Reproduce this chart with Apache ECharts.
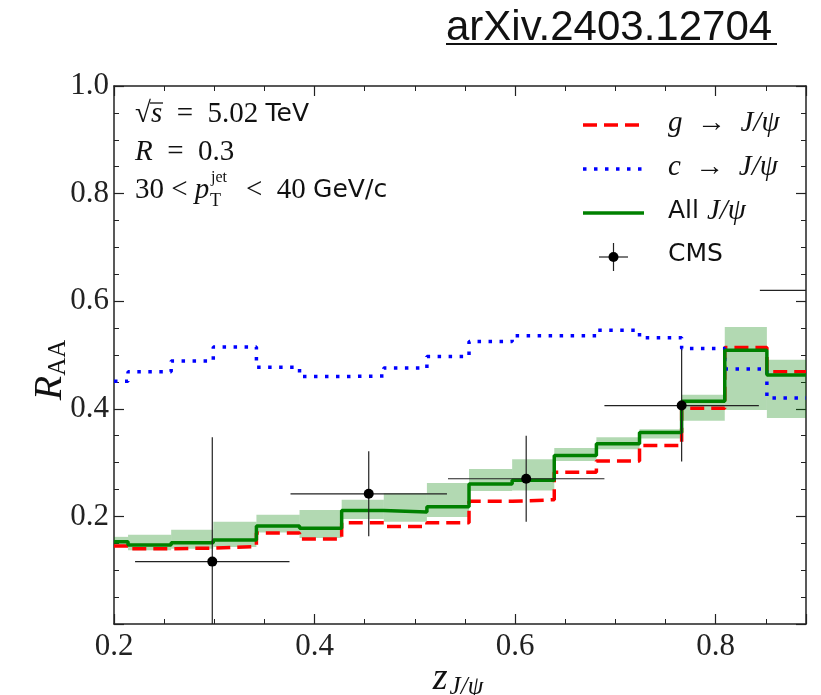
<!DOCTYPE html>
<html>
<head>
<meta charset="utf-8">
<script src="https://cdn.jsdelivr.net/npm/echarts@6/dist/echarts.min.js"></script>
<style>
html, body { margin: 0; padding: 0; background: #fff; }
#main { width: 821px; height: 695px; }
</style>
</head>
<body>
<div id="main"></div>
<script>
// bin edges in z_J/psi
var edges = [0.2, 0.214, 0.257, 0.299, 0.342, 0.385, 0.427, 0.469, 0.512, 0.554,
             0.597, 0.639, 0.681, 0.724, 0.766, 0.809, 0.851, 0.89];
// R_AA per bin
var allJpsi = [0.153, 0.147, 0.151, 0.156, 0.182, 0.178, 0.211, 0.208, 0.218,
               0.260, 0.267, 0.313, 0.335, 0.356, 0.414, 0.509, 0.463];
var gJpsi   = [0.145, 0.140, 0.141, 0.144, 0.169, 0.158, 0.188, 0.181, 0.188,
               0.228, 0.231, 0.282, 0.303, 0.332, 0.401, 0.514, 0.469];
var cJpsi   = [0.451, 0.469, 0.489, 0.515, 0.477, 0.460, 0.461, 0.476, 0.497,
               0.525, 0.536, 0.536, 0.546, 0.532, 0.512, 0.474, 0.420];
// uncertainty band of All J/psi
var bandLo  = [0.143, 0.137, 0.140, 0.143, 0.170, 0.160, 0.195, 0.190, 0.199,
               0.247, 0.248, 0.303, 0.325, 0.345, 0.378, 0.398, 0.383];
var bandHi  = [0.162, 0.166, 0.175, 0.190, 0.203, 0.212, 0.231, 0.243, 0.262,
               0.288, 0.306, 0.327, 0.347, 0.362, 0.426, 0.552, 0.491];
// CMS data
var cmsX    = [0.298, 0.454, 0.611, 0.766, 0.921];
var cmsY    = [0.116, 0.242, 0.270, 0.406, 0.620];
var cmsXerr = [0.077, 0.078, 0.078, 0.077, 0.077];
var cmsYerr = [0.231, 0.079, 0.080, 0.104, 0.100];

var serif = "'Liberation Serif', 'DejaVu Serif', serif";
var sans = "'DejaVu Sans', 'Liberation Sans', sans-serif";

function stepPoints(vals) {
    var pts = [];
    for (var i = 0; i < vals.length; i++) {
        pts.push([edges[i], vals[i]]);
        pts.push([edges[i + 1], vals[i]]);
    }
    return pts;
}

var bandData = [];
for (var i = 0; i < bandLo.length; i++) {
    bandData.push([edges[i], edges[i + 1], bandLo[i], bandHi[i]]);
}
var cmsData = [];
for (var j = 0; j < cmsX.length; j++) {
    cmsData.push([cmsX[j], cmsY[j], cmsXerr[j], cmsYerr[j]]);
}

function renderBand(params, api) {
    var p0 = api.coord([api.value(0), api.value(3)]);
    var p1 = api.coord([api.value(1), api.value(2)]);
    return {
        type: 'rect',
        shape: { x: p0[0], y: p0[1], width: p1[0] - p0[0], height: p1[1] - p0[1] },
        style: { fill: 'rgba(0,128,0,0.3)' }
    };
}

function renderCms(params, api) {
    var cs = params.coordSys;
    var x = api.value(0), y = api.value(1), ex = api.value(2), ey = api.value(3);
    var c = api.coord([x, y]);
    var l = api.coord([x - ex, y]), r = api.coord([x + ex, y]);
    var t = api.coord([x, y + ey]), b = api.coord([x, y - ey]);
    var left = cs.x, right = cs.x + cs.width, top = cs.y, bottom = cs.y + cs.height;
    var kids = [];
    var lx = Math.max(l[0], left), rx = Math.min(r[0], right);
    if (rx > lx) {
        kids.push({ type: 'line', shape: { x1: lx, y1: c[1], x2: rx, y2: c[1] },
                    style: { stroke: '#222', lineWidth: 1.2 } });
    }
    if (c[0] >= left && c[0] <= right) {
        kids.push({ type: 'line',
                    shape: { x1: c[0], y1: Math.max(t[1], top), x2: c[0], y2: Math.min(b[1], bottom) },
                    style: { stroke: '#222', lineWidth: 1.2 } });
        kids.push({ type: 'circle', shape: { cx: c[0], cy: c[1], r: 5 }, style: { fill: '#000' } });
    }
    return { type: 'group', children: kids };
}

function xLabel(v) {
    var k = v / 0.2;
    return Math.abs(k - Math.round(k)) < 1e-6 ? v.toFixed(1) : '';
}

var axisLine = { show: true, lineStyle: { color: '#222', width: 1.5 } };
var lbl = { fontFamily: serif, fontSize: 31, color: '#222' };
var ser = { fontFamily: serif, fontSize: 29, fill: '#111' };
var ita = { fontFamily: serif, fontStyle: 'italic', fontSize: 29, fill: '#111' };
var sns = { fontFamily: sans, fontSize: 25, fill: '#111' };

var myChart = echarts.init(document.getElementById('main'));
var option = {
    animation: false,
    grid: { left: 114, top: 86, right: 15, bottom: 71 },
    xAxis: [
        { type: 'value', min: 0.2, max: 0.89, interval: 0.2, position: 'bottom',
          axisLine: axisLine, splitLine: { show: false },
          axisTick: { inside: true, length: 10, lineStyle: { color: '#222', width: 1.2 } },
          axisLabel: Object.assign({ margin: 7, formatter: xLabel }, lbl) },
        { type: 'value', min: 0.2, max: 0.89, interval: 0.05, position: 'bottom',
          axisLine: { show: false }, splitLine: { show: false }, axisLabel: { show: false },
          axisTick: { inside: true, length: 5, lineStyle: { color: '#222', width: 1 } } },
        { type: 'value', min: 0.2, max: 0.89, interval: 0.2, position: 'top',
          axisLine: axisLine, splitLine: { show: false }, axisLabel: { show: false },
          axisTick: { inside: true, length: 10, lineStyle: { color: '#222', width: 1.2 } } },
        { type: 'value', min: 0.2, max: 0.89, interval: 0.05, position: 'top',
          axisLine: { show: false }, splitLine: { show: false }, axisLabel: { show: false },
          axisTick: { inside: true, length: 5, lineStyle: { color: '#222', width: 1 } } }
    ],
    yAxis: [
        { type: 'value', min: 0, max: 1, interval: 0.2, position: 'left',
          axisLine: axisLine, splitLine: { show: false },
          axisTick: { inside: true, length: 10, lineStyle: { color: '#222', width: 1.2 } },
          minorTick: { show: true, splitNumber: 4, length: 5, lineStyle: { color: '#222', width: 1 } },
          axisLabel: Object.assign({ margin: 5, formatter: function (v) { return v === 0 ? '' : v.toFixed(1); } }, lbl) },
        { type: 'value', min: 0, max: 1, interval: 0.2, position: 'right',
          axisLine: axisLine, splitLine: { show: false }, axisLabel: { show: false },
          axisTick: { inside: true, length: 10, lineStyle: { color: '#222', width: 1.2 } },
          minorTick: { show: true, splitNumber: 4, length: 5, lineStyle: { color: '#222', width: 1 } } }
    ],
    series: [
        { type: 'custom', name: 'band', renderItem: renderBand, data: bandData,
          encode: { x: [0, 1], y: [2, 3] }, silent: true, z: 1 },
        { type: 'line', name: 'g', data: stepPoints(gJpsi), showSymbol: false, z: 2,
          lineStyle: { color: '#ff0000', width: 3.5, type: [14, 7] } },
        { type: 'line', name: 'c', data: stepPoints(cJpsi), showSymbol: false, z: 3,
          lineStyle: { color: '#0000ff', width: 3.5, type: [3.5, 7.5] } },
        { type: 'line', name: 'all', data: stepPoints(allJpsi), showSymbol: false, z: 4,
          lineStyle: { color: '#008000', width: 3.5 } },
        { type: 'custom', name: 'CMS', renderItem: renderCms, data: cmsData,
          encode: { x: 0, y: 1 }, z: 5 }
    ],
    graphic: [
        // title
        { type: 'text', left: 446, top: 7, style: { text: 'arXiv.2403.12704', fontFamily: "'Liberation Sans', Arial, sans-serif", fontSize: 42, fill: '#111' } },
        { type: 'line', shape: { x1: 446, y1: 44, x2: 777, y2: 44 }, style: { stroke: '#111', lineWidth: 2 } },
        // axis titles
        { type: 'text', x: 50, y: 370, rotation: Math.PI / 2,
          style: { text: '{r|R}{s|AA}', align: 'center', verticalAlign: 'middle',
                   rich: { r: { fontFamily: serif, fontStyle: 'italic', fontSize: 40, fill: '#111' },
                           s: { fontFamily: serif, fontSize: 25, fill: '#111', padding: [16, 0, 0, 0] } } } },
        { type: 'text', x: 458, y: 679,
          style: { text: '{z|z}{s|J/ψ}', align: 'center', verticalAlign: 'middle',
                   rich: { z: { fontFamily: serif, fontStyle: 'italic', fontSize: 38, fill: '#111' },
                           s: { fontFamily: serif, fontStyle: 'italic', fontSize: 25, fill: '#111', padding: [16, 0, 0, 2] } } } },
        // annotations
        { type: 'text', left: 135, top: 100,
          style: { text: '{n|√}{i|s}{n|  =  5.02 }{s|TeV}', rich: { n: ser, i: ita, s: sns } } },
        { type: 'line', shape: { x1: 150, y1: 103, x2: 163, y2: 103 }, style: { stroke: '#111', lineWidth: 1.3 } },
        { type: 'text', left: 135, top: 138,
          style: { text: '{i|R}{n|  =  0.3}', rich: { n: ser, i: ita } } },
        { type: 'text', left: 135, top: 176,
          style: { text: '{n|30 < }{i|p}', rich: { n: ser, i: ita } } },
        { type: 'text', left: 211, top: 170, style: { text: 'jet', fontFamily: serif, fontSize: 16, fill: '#111' } },
        { type: 'text', left: 210, top: 192, style: { text: 'T', fontFamily: serif, fontSize: 18, fill: '#111' } },
        { type: 'text', left: 246, top: 176,
          style: { text: '{n|<  40 }{s|GeV/c}', rich: { n: ser, s: sns } } },
        // legend
        { type: 'line', shape: { x1: 583, y1: 125, x2: 644, y2: 125 }, style: { stroke: '#ff0000', lineWidth: 3.5, lineDash: [14, 7] } },
        { type: 'line', shape: { x1: 583, y1: 169, x2: 644, y2: 169 }, style: { stroke: '#0000ff', lineWidth: 3.5, lineDash: [3.5, 7.5] } },
        { type: 'line', shape: { x1: 583, y1: 213, x2: 644, y2: 213 }, style: { stroke: '#008000', lineWidth: 3.5 } },
        { type: 'line', shape: { x1: 599, y1: 257, x2: 628, y2: 257 }, style: { stroke: '#222', lineWidth: 1.2 } },
        { type: 'line', shape: { x1: 613.5, y1: 243, x2: 613.5, y2: 271 }, style: { stroke: '#222', lineWidth: 1.2 } },
        { type: 'circle', shape: { cx: 613.5, cy: 257, r: 5 }, style: { fill: '#000' } },
        { type: 'text', left: 668, top: 109, style: { text: '{i|g  →  J/ψ}', rich: { i: ita } } },
        { type: 'text', left: 668, top: 153, style: { text: '{i|c  →  J/ψ}', rich: { i: ita } } },
        { type: 'text', left: 668, top: 197, style: { text: '{s|All }{i|J/ψ}', rich: { s: sns, i: ita } } },
        { type: 'text', left: 668, top: 242, style: { text: 'CMS', fontFamily: sans, fontSize: 25, fill: '#111' } }
    ]
};
myChart.setOption(option);
</script>
</body>
</html>
